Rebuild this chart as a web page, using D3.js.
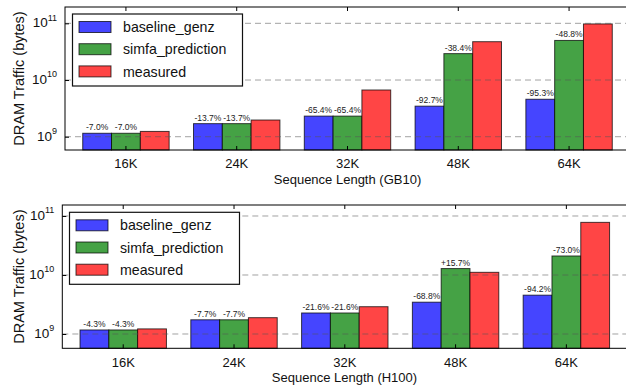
<!DOCTYPE html>
<html lang="en">
<head>
  <meta charset="UTF-8">
  <title>DRAM Traffic</title>
  <script src="https://d3js.org/d3.v7.min.js"></script>
  <style>
    body {
      margin: 0;
      background: white;
      font-family: "Liberation Sans", Arial, sans-serif;
    }
    .tick line { stroke: black; }
    .grid line {
      stroke: #555;
      stroke-opacity: 0.55;
      stroke-dasharray: 6,4;
    }
    .note {
      font-size: 8.5px;
      fill: #222;
      text-anchor: middle;
    }
  </style>
</head>
<body>
  <svg width="626" height="388"></svg>
  <script>
    const categories = ["16K", "24K", "32K", "48K", "64K"];
    const seriesNames = ["baseline_genz", "simfa_prediction", "measured"];
    const seriesColors = ["rgb(69,69,255)", "rgb(69,162,69)", "rgb(255,69,69)"];
    const yTicks = [1e9, 1e10, 1e11];

    // GB10
    const gb10Baseline = [1.15e9, 1.70e9, 2.31e9, 3.46e9, 4.58e9];
    const gb10Prediction = [1.15e9, 1.70e9, 2.31e9, 2.92e10, 4.99e10];
    const gb10Measured = [1.24e9, 1.97e9, 6.67e9, 4.74e10, 9.75e10];
    const gb10BaselineLabels = ["-7.0%", "-13.7%", "-65.4%", "-92.7%", "-95.3%"];
    const gb10PredictionLabels = ["-7.0%", "-13.7%", "-65.4%", "-38.4%", "-48.8%"];

    // H100
    const h100Baseline = [1.17e9, 1.74e9, 2.27e9, 3.46e9, 4.55e9];
    const h100Prediction = [1.17e9, 1.74e9, 2.27e9, 1.285e10, 2.1e10];
    const h100Measured = [1.22e9, 1.89e9, 2.90e9, 1.11e10, 7.8e10];
    const h100BaselineLabels = ["-4.3%", "-7.7%", "-21.6%", "-68.8%", "-94.2%"];
    const h100PredictionLabels = ["-4.3%", "-7.7%", "-21.6%", "+15.7%", "-73.0%"];

    const svg = d3.select("svg");

    function drawPanel(p) {
      const g = svg.append("g");
      const x = d3.scaleBand().domain(categories)
        .range([p.left, p.right]).paddingInner(0.22).paddingOuter(0.16);
      const xs = d3.scaleBand().domain(seriesNames).range([0, x.bandwidth()]);
      const y = d3.scaleLog().domain(p.yDomain).range([p.bottom, p.top]);

      const values = [p.baseline, p.prediction, p.measured];
      const labels = [p.baselineLabels, p.predictionLabels, null];

      // bars
      seriesNames.forEach((s, si) => {
        g.append("g").selectAll("rect")
          .data(values[si])
          .enter().append("rect")
          .attr("x", (d, i) => x(categories[i]) + xs(s))
          .attr("y", d => y(d))
          .attr("width", xs.bandwidth())
          .attr("height", d => p.bottom - y(d))
          .attr("fill", seriesColors[si])
          .attr("stroke", "rgba(0,0,0,0.72)")
          .attr("stroke-width", 1);
        if (labels[si]) {
          g.append("g").selectAll("text")
            .data(values[si])
            .enter().append("text")
            .attr("class", "note")
            .attr("x", (d, i) => x(categories[i]) + xs(s) + xs.bandwidth() / 2)
            .attr("y", d => y(d) - 3)
            .text((d, i) => labels[si][i]);
        }
      });

      // grid lines over bars
      g.append("g").attr("class", "grid")
        .selectAll("line").data(yTicks).enter().append("line")
        .attr("x1", p.left).attr("x2", p.right)
        .attr("y1", d => y(d)).attr("y2", d => y(d));

      // axes
      const xAxis = g.append("g")
        .attr("transform", `translate(0,${p.bottom})`)
        .call(d3.axisBottom(x).tickSizeInner(-4).tickSizeOuter(0).tickPadding(9));
      xAxis.select(".domain").remove();
      xAxis.selectAll("text").attr("font-size", 13).attr("font-family", "Liberation Sans, Arial, sans-serif").attr("fill", "#111");

      const xTop = g.append("g")
        .attr("transform", `translate(0,${p.top})`)
        .call(d3.axisTop(x).tickSizeInner(-4).tickSizeOuter(0).tickFormat(""));
      xTop.select(".domain").remove();

      const yAxis = g.append("g")
        .attr("transform", `translate(${p.left},0)`)
        .call(d3.axisLeft(y).tickValues(yTicks).tickSizeInner(-4).tickSizeOuter(0).tickPadding(8).tickFormat(""));
      yAxis.select(".domain").remove();
      yAxis.selectAll(".tick text").each(function(d) {
        const t = d3.select(this)
          .attr("font-family", "Liberation Sans, Arial, sans-serif")
          .attr("fill", "#111")
          .attr("dy", "0.36em");
        t.append("tspan").attr("font-size", 13.5).text("10");
        t.append("tspan").attr("font-size", 9).attr("dy", "-0.75em")
          .text(Math.round(Math.log10(d)));
      });

      // frame
      g.append("rect")
        .attr("x", p.left).attr("y", p.top)
        .attr("width", p.right - p.left).attr("height", p.bottom - p.top)
        .attr("fill", "none").attr("stroke", "black").attr("stroke-width", 1);

      // titles
      g.append("text")
        .attr("x", p.titleX)
        .attr("y", p.bottom + 34)
        .attr("text-anchor", "middle")
        .attr("font-size", 13)
        .attr("fill", "#111")
        .text(p.xTitle);

      g.append("text")
        .attr("transform", `translate(24,${(p.top + p.bottom) / 2}) rotate(-90)`)
        .attr("text-anchor", "middle")
        .attr("font-size", 14.5)
        .attr("fill", "#111")
        .text("DRAM Traffic (bytes)");

      // legend
      const lg = g.append("g").attr("transform", `translate(${p.legendX},${p.legendY})`);
      lg.append("rect")
        .attr("width", 170).attr("height", 72)
        .attr("fill", "white").attr("stroke", "#111").attr("stroke-width", 1.2);
      seriesNames.forEach((s, si) => {
        lg.append("rect")
          .attr("x", 6.5).attr("y", 7.5 + si * 22.2)
          .attr("width", 32).attr("height", 11)
          .attr("fill", seriesColors[si])
          .attr("stroke", "rgba(0,0,0,0.72)");
        lg.append("text")
          .attr("x", 50.5).attr("y", 13 + si * 22.2)
          .attr("dy", "0.36em")
          .attr("font-size", 14.2)
          .attr("fill", "#111")
          .text(s);
      });
    }

    drawPanel({
      left: 65, right: 630, top: 7, bottom: 150,
      yDomain: [5.83e8, 1.94e11],
      baseline: gb10Baseline, prediction: gb10Prediction, measured: gb10Measured,
      baselineLabels: gb10BaselineLabels, predictionLabels: gb10PredictionLabels,
      xTitle: "Sequence Length (GB10)", titleX: 347.5,
      legendX: 72.5, legendY: 14
    });

    drawPanel({
      left: 62.3, right: 627.3, top: 205, bottom: 348.3,
      yDomain: [5.72e8, 1.536e11],
      baseline: h100Baseline, prediction: h100Prediction, measured: h100Measured,
      baselineLabels: h100BaselineLabels, predictionLabels: h100PredictionLabels,
      xTitle: "Sequence Length (H100)", titleX: 344.5,
      legendX: 69.5, legendY: 212.3
    });
  </script>
</body>
</html>
